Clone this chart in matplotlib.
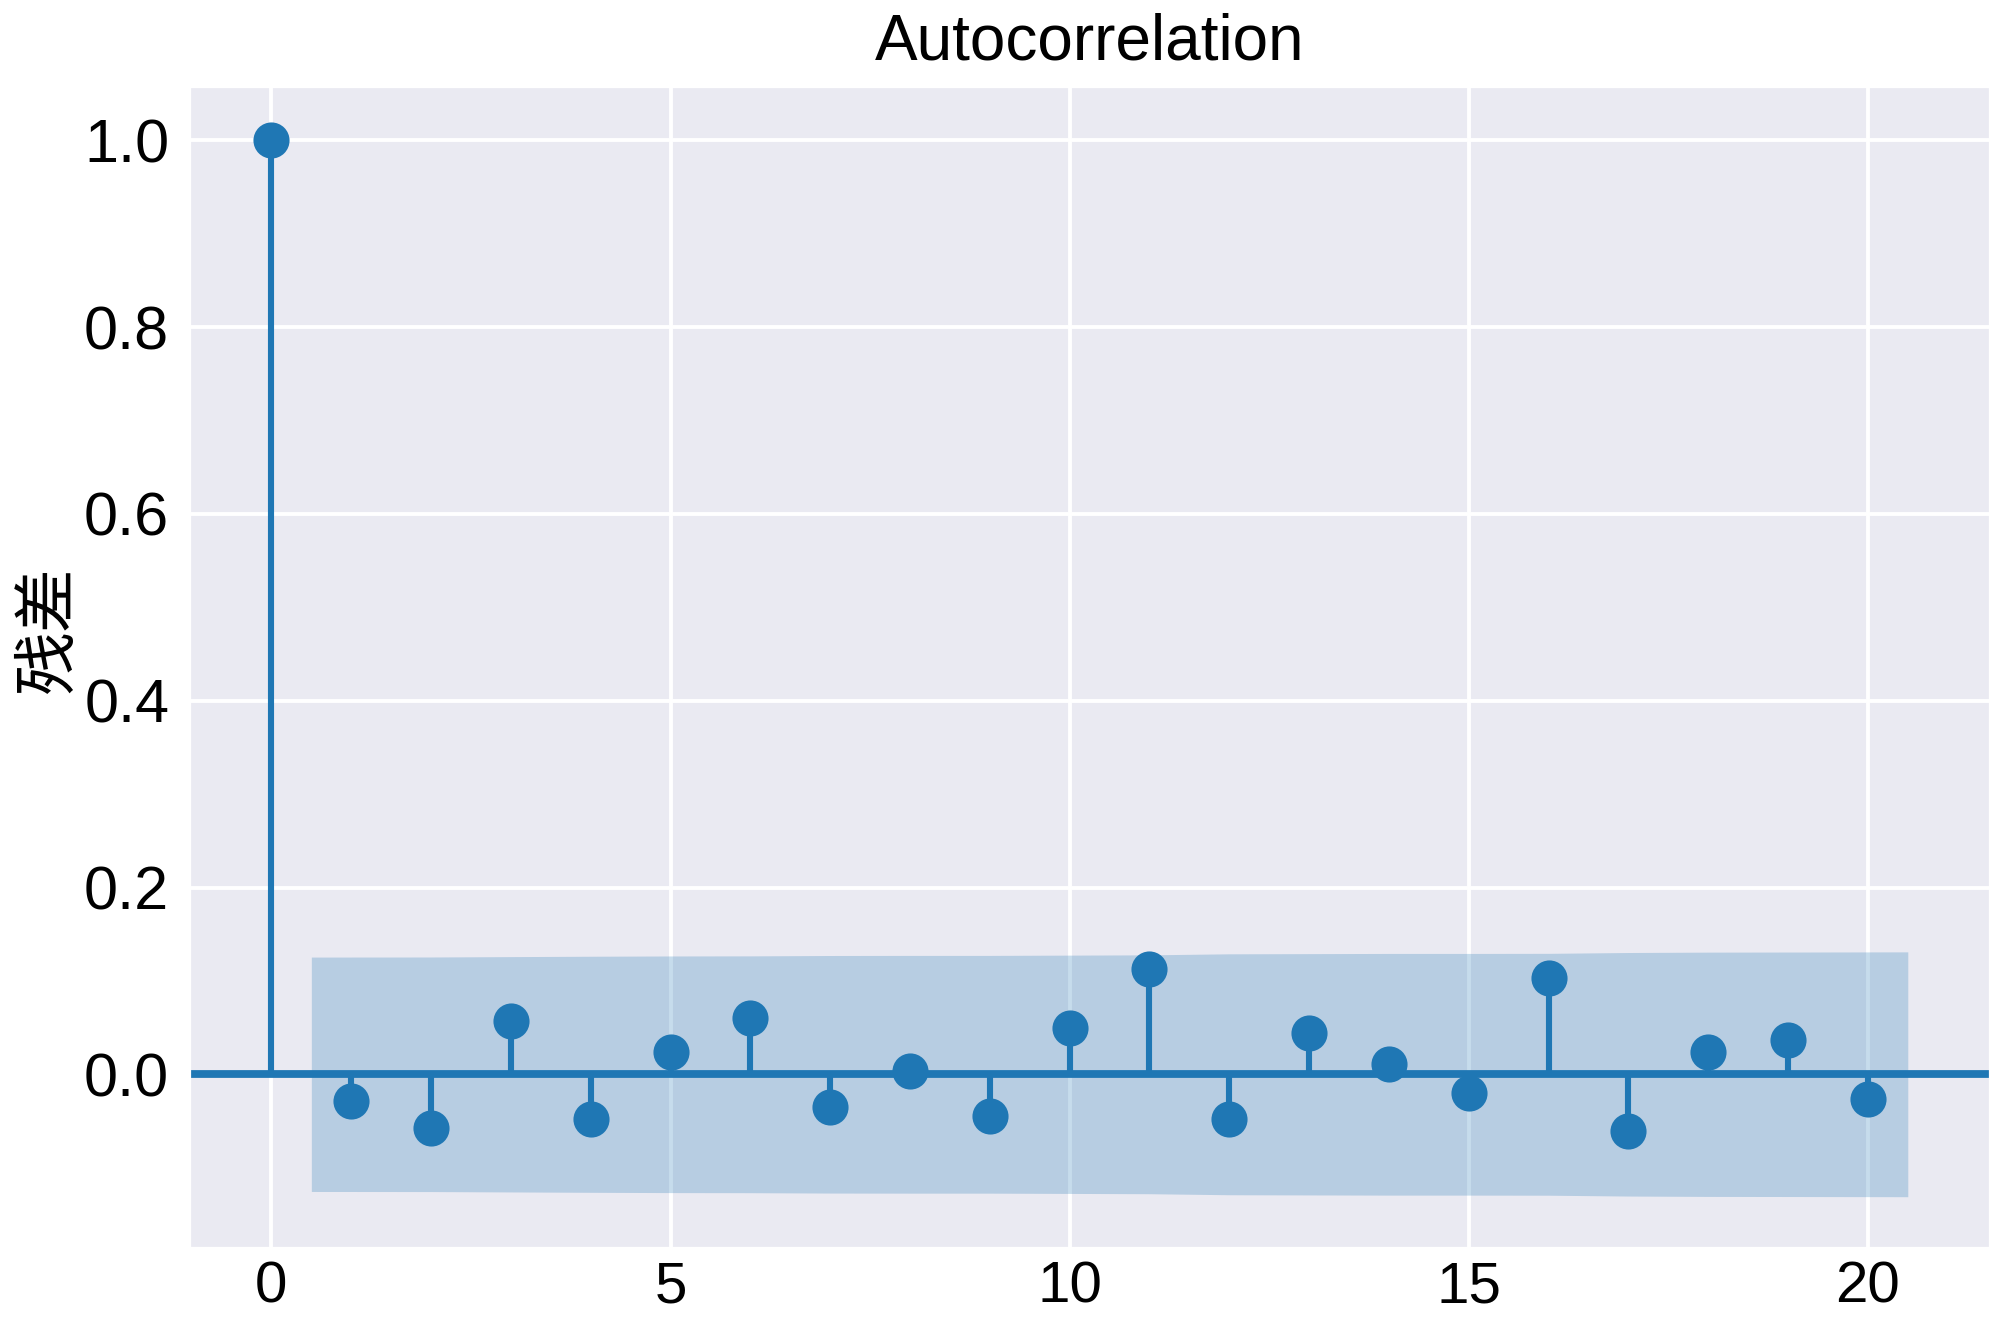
import numpy as np
import matplotlib
matplotlib.use("Agg")
import matplotlib.pyplot as plt
import seaborn as sns

sns.set_style("darkgrid")
plt.rcParams['font.family'] = ['Liberation Sans', 'Noto Sans CJK SC', 'DejaVu Sans']

# autocorrelation of residuals
lags = np.arange(0, 21)
acf_vals = [1.0, -0.029, -0.058, 0.057, -0.048, 0.024, 0.060, -0.035, 0.003, -0.045,
            0.050, 0.113, -0.048, 0.044, 0.011, -0.020, 0.103, -0.061, 0.024, 0.037, -0.026]
# half width of the confidence band for lags 1..20
band = [0.1255, 0.1256, 0.1260, 0.1264, 0.1267, 0.1268, 0.1272, 0.1273, 0.1273, 0.1276,
        0.1279, 0.1290, 0.1292, 0.1294, 0.1294, 0.1295, 0.1304, 0.1308, 0.1309, 0.1311]

color = "#1f77b4"
fig = plt.figure(figsize=(10, 6.61), dpi=200)
ax = fig.add_axes([0.095, 0.056, 0.9, 0.878])

acf_arr = np.array(acf_vals)
ax.vlines(lags, 0, acf_arr, color=color, lw=2.2)
ax.plot(lags, acf_arr, "o", color=color, markersize=12)
ax.axhline(0, color=color, lw=2.8)

# shaded band like statsmodels: stretch the ends by half a lag
band_x = lags[1:].astype(float)
band_x[0] -= 0.5
band_x[-1] += 0.5
band_arr = np.array(band)
ax.fill_between(band_x, -band_arr, band_arr, color=color, alpha=0.25, lw=0)

ax.set_xlim(-1.02, 21.53)
ax.set_ylim(-0.186, 1.057)
ax.set_xticks([0, 5, 10, 15, 20])
ax.set_yticks([0.0, 0.2, 0.4, 0.6, 0.8, 1.0])
ax.tick_params(axis="x", labelsize=21, pad=1, labelcolor="black")
ax.tick_params(axis="y", labelsize=22, pad=4, labelcolor="black")
ax.grid(color="white", lw=1.4)

ax.set_title("Autocorrelation", fontsize=23, pad=10, color="black")
ax.set_ylabel("残差", fontsize=23, family=['Noto Sans CJK SC', 'DejaVu Sans'], color="black")
ax.yaxis.set_label_coords(-0.06, 0.533)

fig.savefig("out.png", dpi=200)
